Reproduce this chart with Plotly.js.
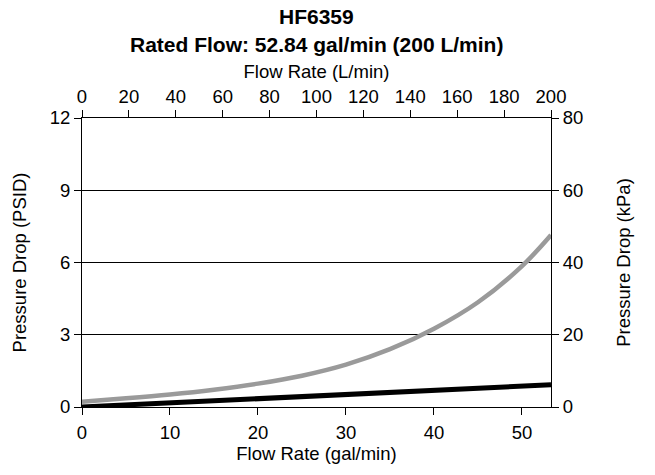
<!DOCTYPE html>
<html>
<head>
<meta charset="utf-8">
<script src="https://cdn.plot.ly/plotly-3.0.1.min.js"></script>
<style>html,body{margin:0;padding:0;background:#fff;}#chart{width:655px;height:475px;}</style>
</head>
<body>
<div id="chart"></div>
<script>
// Flow rate (gal/min) and pressure drop (PSID)
const grayFlow = [0, 5, 10, 15, 20, 25, 30, 35, 40, 45, 50, 53.3];
const grayPsid = [0.22, 0.36, 0.52, 0.72, 0.97, 1.30, 1.76, 2.40, 3.25, 4.35, 5.85, 7.14];
const blackFlow = [0, 10, 20, 30, 40, 53.3];
const blackPsid = [0.0, 0.17, 0.34, 0.52, 0.69, 0.92];
const bottomTicks = [0, 10, 20, 30, 40, 50];
const topTicks = [0, 20, 40, 60, 80, 100, 120, 140, 160, 180, 200];
const leftTicks = [0, 3, 6, 9, 12];
const rightTicks = [0, 20, 40, 60, 80];
const titleLines = ['HF6359', 'Rated Flow: 52.84 gal/min (200 L/min)'];

const font = "Liberation Sans, Arial, Helvetica, sans-serif";
const fs = 18.5;
const tfs = 21;

const traces = [
  {x: grayFlow, y: grayPsid, mode: 'lines', line: {color: '#9a9a9a', width: 4.5, shape: 'spline', smoothing: 1}, xaxis: 'x', yaxis: 'y', hoverinfo: 'skip'},
  {x: blackFlow, y: blackPsid, mode: 'lines', line: {color: '#000000', width: 5}, xaxis: 'x', yaxis: 'y', hoverinfo: 'skip'}
];

const axisCommon = {
  showline: true, linecolor: '#000', linewidth: 1,
  ticks: 'outside', ticklen: 7, tickwidth: 1, tickcolor: '#000',
  tickfont: {family: font, size: fs, color: '#000'},
  zeroline: false
};

const layout = {
  width: 655, height: 475,
  margin: {l: 82, r: 104, t: 118, b: 68},
  paper_bgcolor: '#fff', plot_bgcolor: '#fff',
  showlegend: false,
  font: {family: font, color: '#000'},
  annotations: [
    {text: '<b>' + titleLines[0] + '</b>', xref: 'paper', yref: 'paper', x: 0.5, y: (407 - 17) / 289, xanchor: 'center', yanchor: 'middle', showarrow: false, font: {family: font, size: tfs, color: '#000'}},
    {text: '<b>' + titleLines[1] + '</b>', xref: 'paper', yref: 'paper', x: 0.5, y: (407 - 44) / 289, xanchor: 'center', yanchor: 'middle', showarrow: false, font: {family: font, size: tfs, color: '#000'}}
  ],
  xaxis: Object.assign({}, axisCommon, {
    range: [0, 53.3], tickvals: bottomTicks, ticktext: bottomTicks.map(String),
    showgrid: false, ticklabelstandoff: 2,
    title: {text: 'Flow Rate (gal/min)', font: {family: font, size: fs, color: '#000'}, standoff: 3}
  }),
  xaxis2: Object.assign({}, axisCommon, {
    range: [0, 200], tickvals: topTicks, ticktext: topTicks.map(String),
    overlaying: 'x', side: 'top', anchor: 'y', showgrid: false,
    title: {text: 'Flow Rate (L/min)', font: {family: font, size: fs, color: '#000'}, standoff: 2}
  }),
  yaxis: Object.assign({}, axisCommon, {
    range: [0, 12], tickvals: leftTicks, ticktext: leftTicks.map(String),
    showgrid: true, gridcolor: '#000', gridwidth: 1,
    title: {text: 'Pressure Drop (PSID)', font: {family: font, size: fs, color: '#000'}, standoff: 18}
  }),
  yaxis2: Object.assign({}, axisCommon, {
    range: [0, 80], tickvals: rightTicks, ticktext: rightTicks.map(String),
    overlaying: 'y', side: 'right', anchor: 'x', showgrid: false,
    title: {text: 'Pressure Drop (kPa)', font: {family: font, size: fs, color: '#000'}, standoff: 34}
  })
};

// invisible traces so the secondary axes are drawn
traces.push({x: [0], y: [0], xaxis: 'x2', yaxis: 'y', mode: 'markers', marker: {opacity: 0}, hoverinfo: 'skip'});
traces.push({x: [0], y: [0], xaxis: 'x', yaxis: 'y2', mode: 'markers', marker: {opacity: 0}, hoverinfo: 'skip'});

Plotly.newPlot('chart', traces, layout, {displayModeBar: false, staticPlot: true});
</script>
</body>
</html>
